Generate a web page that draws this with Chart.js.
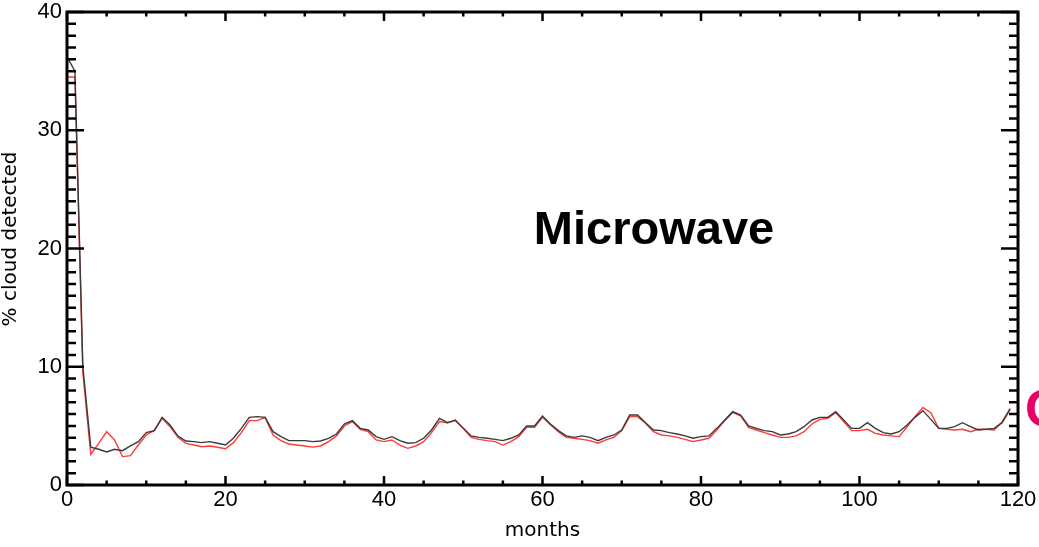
<!DOCTYPE html>
<html><head><meta charset="utf-8">
<script src="https://cdn.jsdelivr.net/npm/chart.js@4"></script>
<style>html,body{margin:0;padding:0;background:#fff;overflow:hidden}#wrap{width:1039px;height:547px}</style>
</head><body><div id="wrap"><canvas id="c" width="1039" height="547"></canvas></div>
<script>
const months = [0,1,2,3,4,5,6,7,8,9,10,11,12,13,14,15,16,17,18,19,20,21,22,23,24,25,26,27,28,29,30,31,32,33,34,35,36,37,38,39,40,41,42,43,44,45,46,47,48,49,50,51,52,53,54,55,56,57,58,59,60,61,62,63,64,65,66,67,68,69,70,71,72,73,74,75,76,77,78,79,80,81,82,83,84,85,86,87,88,89,90,91,92,93,94,95,96,97,98,99,100,101,102,103,104,105,106,107,108,109,110,111,112,113,114,115,116,117,118,119];
const blackSeries = [36.2,35.0,10.0,3.19,3.02,2.79,3.02,2.9,3.3,3.67,4.43,4.6,5.72,5.07,4.14,3.72,3.67,3.58,3.67,3.53,3.38,3.95,4.79,5.72,5.78,5.72,4.51,4.09,3.75,3.75,3.75,3.67,3.72,3.95,4.31,5.16,5.44,4.79,4.65,4.09,3.86,4.09,3.75,3.53,3.58,3.95,4.65,5.64,5.27,5.5,4.79,4.15,4.03,3.95,3.86,3.75,3.95,4.23,4.99,4.99,5.84,5.16,4.6,4.15,4.03,4.15,4.03,3.75,4.03,4.23,4.65,5.92,5.92,5.27,4.65,4.6,4.43,4.31,4.15,3.95,4.09,4.15,4.79,5.5,6.2,5.92,4.99,4.79,4.6,4.51,4.23,4.31,4.51,4.93,5.5,5.72,5.72,6.2,5.5,4.79,4.79,5.27,4.79,4.43,4.31,4.51,5.07,5.72,6.29,5.55,4.79,4.79,4.93,5.27,4.93,4.65,4.71,4.79,5.27,6.4];
const redSeries = [34.5,34.5,9.5,2.6,3.52,4.51,3.81,2.4,2.48,3.38,4.23,4.6,5.64,4.93,4.03,3.52,3.38,3.24,3.3,3.19,3.07,3.58,4.43,5.44,5.44,5.72,4.23,3.75,3.47,3.38,3.3,3.2,3.3,3.67,4.15,4.99,5.36,4.71,4.51,3.81,3.67,3.81,3.38,3.1,3.3,3.67,4.43,5.36,5.27,5.44,4.79,4.03,3.86,3.75,3.67,3.38,3.67,4.09,4.88,4.88,5.72,5.1,4.51,4.03,3.95,3.86,3.75,3.53,3.81,4.03,4.6,5.78,5.78,5.22,4.51,4.23,4.15,4.03,3.86,3.67,3.81,3.95,4.65,5.44,6.12,5.84,4.88,4.65,4.43,4.23,4.03,4.03,4.15,4.51,5.16,5.55,5.64,6.12,5.36,4.6,4.6,4.71,4.37,4.23,4.15,4.09,4.93,5.78,6.57,6.12,4.79,4.71,4.65,4.71,4.51,4.71,4.71,4.65,5.36,6.48];
const xTickLabels = [0,20,40,60,80,100,120];
const yTickLabels = [0,10,20,30,40];
const xTitle = 'months';
const yTitle = '% cloud detected';
const panelLabel = 'Microwave';
const edgeLabel = 'O';

const toPts = (xs, ys) => xs.map((x, i) => ({x: x, y: ys[i]}));

const framePlugin = {
  id: 'frame',
  afterDatasetsDraw(chart) {
    const {ctx, chartArea: a, scales: {x, y}} = chart;
    ctx.save();
    ctx.strokeStyle = '#000';
    ctx.lineCap = 'butt';
    ctx.lineWidth = 2.5;
    for (let v = 0; v <= 40; v++) {
      const py = y.getPixelForValue(v);
      const len = (v % 10 === 0) ? 17 : 9;
      ctx.beginPath();
      ctx.moveTo(a.left, py); ctx.lineTo(a.left + len, py);
      ctx.moveTo(a.right, py); ctx.lineTo(a.right - len, py);
      ctx.stroke();
    }
    for (let m = 0; m <= 120; m += 5) {
      const px = x.getPixelForValue(m);
      const len = (m % 20 === 0) ? 9 : 4.5;
      ctx.beginPath();
      ctx.moveTo(px, a.bottom); ctx.lineTo(px, a.bottom - len);
      ctx.moveTo(px, a.top); ctx.lineTo(px, a.top + len);
      ctx.stroke();
    }
    ctx.lineWidth = 3;
    ctx.strokeRect(a.left, a.top, a.right - a.left, a.bottom - a.top);
    // y-axis title
    ctx.fillStyle = '#000';
    ctx.font = '20px "DejaVu Sans", sans-serif';
    ctx.textAlign = 'center';
    ctx.textBaseline = 'middle';
    ctx.save();
    ctx.translate(11, 239);
    ctx.rotate(-Math.PI / 2);
    ctx.fillText(yTitle, 0, 0);
    ctx.restore();
    // panel label
    ctx.font = 'bold 47px "Liberation Sans", Arial, sans-serif';
    ctx.textAlign = 'center';
    ctx.textBaseline = 'alphabetic';
    ctx.fillText(panelLabel, 654, 244);
    ctx.fillStyle = '#e8006a';
    ctx.font = 'bold 52px "Liberation Sans", Arial, sans-serif';
    ctx.textAlign = 'left';
    ctx.fillText(edgeLabel, 1025, 426);
    ctx.restore();
  }
};

new Chart(document.getElementById('c'), {
  type: 'line',
  data: {
    datasets: [
      {label: 'black', data: toPts(months, blackSeries), borderColor: '#3a3a3a', borderWidth: 1.4, pointRadius: 0, tension: 0, fill: false},
      {label: 'red', data: toPts(months, redSeries), borderColor: '#ff3a3a', borderWidth: 1.4, pointRadius: 0, tension: 0, fill: false}
    ]
  },
  options: {
    responsive: false,
    animation: false,
    devicePixelRatio: 1,
    layout: {padding: {top: 12, right: 21, left: 0, bottom: 0}},
    plugins: {legend: {display: false}, tooltip: {enabled: false}},
    scales: {
      x: {
        type: 'linear', min: 0, max: 120,
        afterFit(s) { s.height = 62; s.paddingLeft = 0; s.paddingRight = 0; },
        afterBuildTicks(s) { s.ticks = xTickLabels.map(v => ({value: v})); },
        grid: {display: false, drawTicks: false},
        border: {display: false},
        ticks: {padding: 2, maxRotation: 0, autoSkip: false, color: '#000', font: {family: '"Liberation Sans", Arial, sans-serif', size: 22}},
        title: {display: true, text: xTitle, color: '#000', padding: {top: 0, bottom: 4}, font: {family: '"DejaVu Sans", sans-serif', size: 20}}
      },
      y: {
        type: 'linear', min: 0, max: 40,
        afterFit(s) { s.width = 67; s.paddingTop = 0; s.paddingBottom = 0; },
        afterBuildTicks(s) { s.ticks = yTickLabels.map(v => ({value: v})); },
        grid: {display: false, drawTicks: false},
        border: {display: false},
        ticks: {padding: 5, color: '#000', font: {family: '"Liberation Sans", Arial, sans-serif', size: 22}},
        title: {display: false}
      }
    }
  },
  plugins: [framePlugin]
});
</script>
</body></html>
